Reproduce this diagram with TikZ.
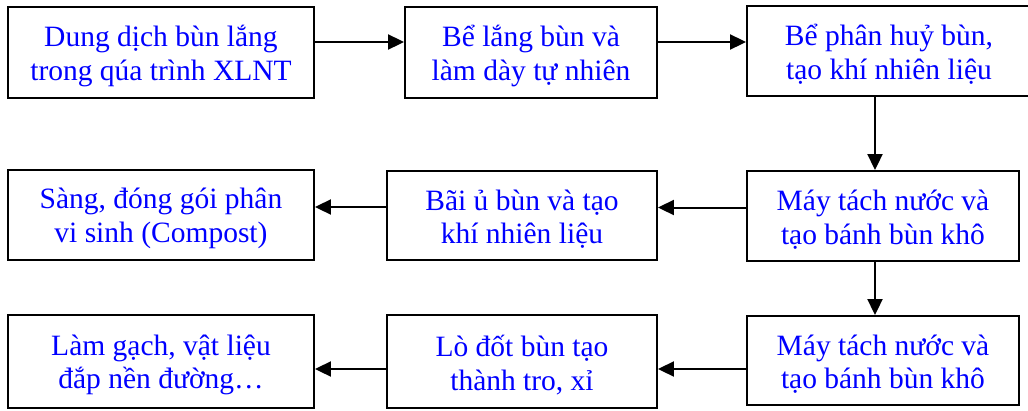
\documentclass[tikz,border=0pt]{standalone}
\usepackage{fontspec}
\setmainfont{Liberation Serif}
\usetikzlibrary{arrows.meta}
\definecolor{txtblue}{RGB}{0,0,255}
\tikzset{
  box/.style={draw=black, line width=1.9pt, rectangle, inner sep=0pt},
  txt/.style={align=center, text=txtblue, inner sep=0pt, yshift=-3.5pt,
    font=\fontsize{29.5pt}{33.5pt}\selectfont},
  arr/.style={line width=2pt, -{Triangle[length=16pt,width=15pt]}}
}
\begin{document}
\begin{tikzpicture}[x=1pt,y=-1pt]
\useasboundingbox (0,0) rectangle (1028,410);
% row 1
\node[box, minimum width=306pt, minimum height=91pt, label={[txt]center:Dung dịch bùn lắng\\trong qúa trình XLNT}] (A) at (161,52.5) {};
\node[box, minimum width=252pt, minimum height=91pt, label={[txt]center:Bể lắng bùn và\\làm dày tự nhiên}] (B) at (531,52.5) {};
\node[box, minimum width=284pt, minimum height=90pt, label={[txt]center:Bể phân huỷ bùn,\\tạo khí nhiên liệu}] (C) at (889,51) {};
% row 2
\node[box, minimum width=306pt, minimum height=90pt, label={[txt]center:Sàng, đóng gói phân\\vi sinh (Compost)}] (D) at (161,215) {};
\node[box, minimum width=270pt, minimum height=89pt, label={[txt]center:Bãi ủ bùn và tạo\\khí nhiên liệu}] (E) at (522,215.5) {};
\node[box, minimum width=272pt, minimum height=90pt, label={[txt]center:Máy tách nước và\\tạo bánh bùn khô}] (F) at (883,216) {};
% row 3
\node[box, minimum width=306pt, minimum height=93pt, label={[txt]center:Làm gạch, vật liệu\\đắp nền đường…}] (G) at (161,361.5) {};
\node[box, minimum width=270pt, minimum height=93pt, label={[txt]center:Lò đốt bùn tạo\\thành tro, xỉ}] (H) at (522,361.5) {};
\node[box, minimum width=272pt, minimum height=89pt, label={[txt]center:Máy tách nước và\\tạo bánh bùn khô}] (I) at (883,360.5) {};
% connectors
\draw[arr] ([yshift=10.5pt]A.east) -- ([yshift=10.5pt]B.west);
\draw[arr] ([yshift=10.5pt]B.east) -- ([yshift=10.5pt]B.east -| C.west);
\draw[arr] ([xshift=-8pt]F.north |- C.south) -- ([xshift=-8pt]F.north);
\draw[arr] ([yshift=8.5pt]F.west) -- ([yshift=8.5pt]F.west -| E.east);
\draw[arr] ([yshift=8.5pt]E.west) -- ([yshift=8.5pt]E.west -| D.east);
\draw[arr] ([xshift=-8pt]F.south) -- ([xshift=-8pt]F.south |- I.north);
\draw[arr] ([yshift=-8.5pt]I.west) -- ([yshift=-8.5pt]I.west -| H.east);
\draw[arr] ([yshift=-7.5pt]H.west) -- ([yshift=-7.5pt]H.west -| G.east);
\end{tikzpicture}
\end{document}
